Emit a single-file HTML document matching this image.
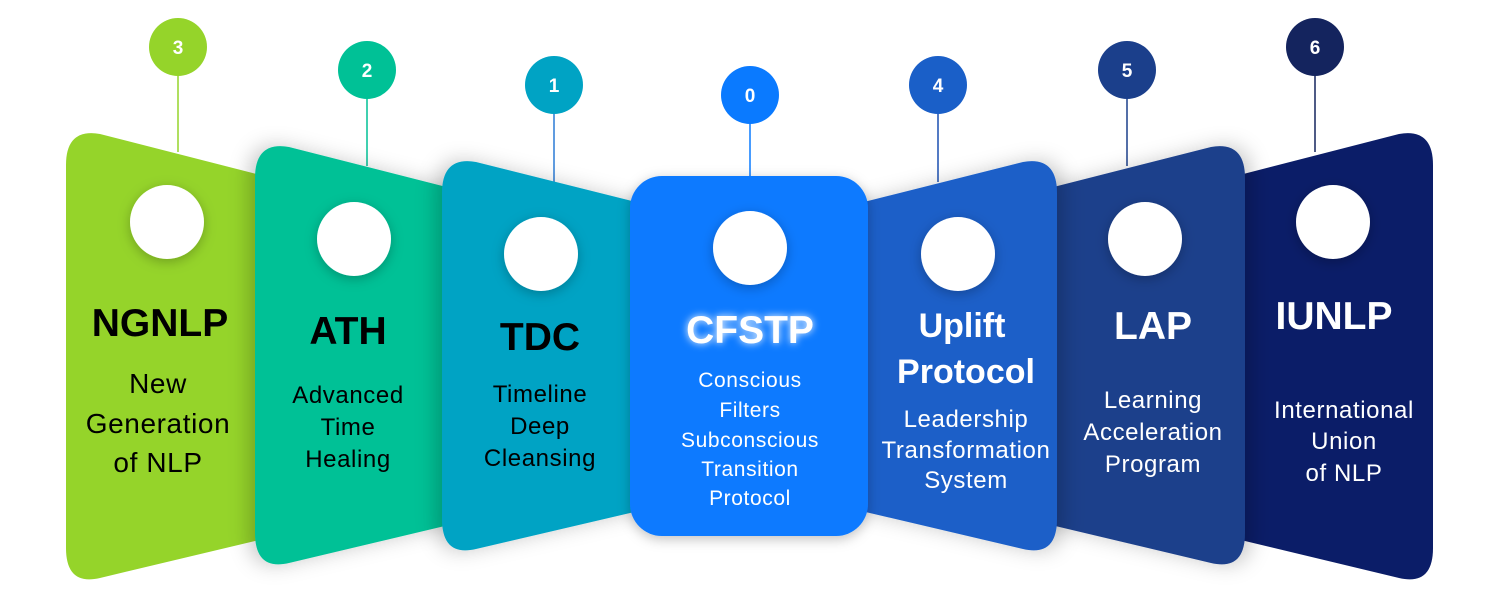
<!DOCTYPE html>
<html><head><meta charset="utf-8"><style>
html,body{margin:0;padding:0;background:#fff;}
svg{display:block;}
text{font-family:"Liberation Sans",sans-serif;text-anchor:middle;}
.s{letter-spacing:0.6px;}
</style></head><body>
<svg width="1500" height="609" viewBox="0 0 1500 609" xmlns="http://www.w3.org/2000/svg">
<defs>
<filter id="sh" x="-20%" y="-20%" width="140%" height="140%"><feDropShadow dx="-6" dy="0" stdDeviation="10" flood-color="#000" flood-opacity="0.22"/></filter>
<filter id="shr" x="-20%" y="-20%" width="140%" height="140%"><feDropShadow dx="6" dy="0" stdDeviation="10" flood-color="#000" flood-opacity="0.22"/></filter>
<filter id="cs" x="-50%" y="-50%" width="200%" height="200%"><feDropShadow dx="0" dy="3" stdDeviation="6" flood-color="#000" flood-opacity="0.25"/></filter>
<filter id="glow" x="-30%" y="-60%" width="160%" height="220%"><feGaussianBlur stdDeviation="4" result="b"/><feMerge><feMergeNode in="b"/><feMergeNode in="SourceGraphic"/></feMerge></filter>
</defs>
<g stroke-width="1.5">
<line x1="178" y1="60" x2="178" y2="152" stroke="#95d42a"/>
<line x1="367" y1="80" x2="367" y2="166" stroke="#00c196"/>
<line x1="554" y1="95" x2="554" y2="182" stroke="#2a7bd6"/>
<line x1="750" y1="105" x2="750" y2="178" stroke="#0a7aff"/>
<line x1="938" y1="95" x2="938" y2="182" stroke="#1a4fb0"/>
<line x1="1127" y1="80" x2="1127" y2="166" stroke="#1b3f8b"/>
<line x1="1315" y1="60" x2="1315" y2="152" stroke="#14245e"/>
</g>
<circle cx="178" cy="47" r="29" fill="#95d42a"/><text x="178" y="54" font-size="19" font-weight="bold" fill="#fff">3</text>
<circle cx="367" cy="70" r="29" fill="#00c196"/><text x="367" y="77" font-size="19" font-weight="bold" fill="#fff">2</text>
<circle cx="554" cy="85" r="29" fill="#00a3c4"/><text x="554" y="92" font-size="19" font-weight="bold" fill="#fff">1</text>
<circle cx="750" cy="95" r="29" fill="#0a7aff"/><text x="750" y="102" font-size="19" font-weight="bold" fill="#fff">0</text>
<circle cx="938" cy="85" r="29" fill="#1a5fc8"/><text x="938" y="92" font-size="19" font-weight="bold" fill="#fff">4</text>
<circle cx="1127" cy="70" r="29" fill="#1b3f8b"/><text x="1127" y="77" font-size="19" font-weight="bold" fill="#fff">5</text>
<circle cx="1315" cy="47" r="29" fill="#14245e"/><text x="1315" y="54" font-size="19" font-weight="bold" fill="#fff">6</text>

<path d="M66 165 Q66 128 100 134 L280 180 L280 535 L100 578 Q66 586 66 548 Z" fill="#95d42a"/>
<path d="M255 178 Q255 141 289 147 L470 193 L470 520 L289 563 Q255 571 255 533 Z" fill="#00c196" filter="url(#sh)"/>
<path d="M442 193 Q442 156 476 162 L660 208 L660 506 L476 549 Q442 557 442 519 Z" fill="#00a3c4" filter="url(#sh)"/>
<path d="M1433 165 Q1433 128 1399 134 L1220 180 L1220 535 L1399 578 Q1433 586 1433 548 Z" fill="#0b1d68"/>
<path d="M1245 178 Q1245 141 1211 147 L1030 193 L1030 520 L1211 563 Q1245 571 1245 533 Z" fill="#1b3f8b" filter="url(#shr)"/>
<path d="M1057 193 Q1057 156 1023 162 L840 208 L840 506 L1023 549 Q1057 557 1057 519 Z" fill="#1a5fc8" filter="url(#shr)"/>
<rect x="630" y="176" width="238" height="360" rx="32" fill="#0a7aff" filter="url(#cs)"/>

<g fill="#fff" filter="url(#cs)">
<circle cx="167" cy="222" r="37"/><circle cx="354" cy="239" r="37"/><circle cx="541" cy="254" r="37"/>
<circle cx="750" cy="248" r="37"/>
<circle cx="958" cy="254" r="37"/><circle cx="1145" cy="239" r="37"/><circle cx="1333" cy="222" r="37"/>
</g>

<g fill="#000">
<text x="160" y="336" font-size="39" font-weight="bold">NGNLP</text>
<text class="s" x="158" y="393" font-size="28">New</text>
<text class="s" x="158" y="433" font-size="28">Generation</text>
<text class="s" x="158" y="472" font-size="28">of NLP</text>
<text x="348" y="344" font-size="39" font-weight="bold">ATH</text>
<text class="s" x="348" y="403" font-size="24">Advanced</text>
<text class="s" x="348" y="435" font-size="24">Time</text>
<text class="s" x="348" y="467" font-size="24">Healing</text>
<text x="540" y="350" font-size="39" font-weight="bold">TDC</text>
<text class="s" x="540" y="402" font-size="24">Timeline</text>
<text class="s" x="540" y="434" font-size="24">Deep</text>
<text class="s" x="540" y="466" font-size="24">Cleansing</text>
</g>
<g fill="#fff">
<text x="750" y="343" font-size="39" font-weight="bold" filter="url(#glow)">CFSTP</text>
<text class="s" x="750" y="387" font-size="21">Conscious</text>
<text class="s" x="750" y="417" font-size="21">Filters</text>
<text class="s" x="750" y="447" font-size="21">Subconscious</text>
<text class="s" x="750" y="476" font-size="21">Transition</text>
<text class="s" x="750" y="505" font-size="21">Protocol</text>
<text x="962" y="337" font-size="34" font-weight="bold">Uplift</text>
<text x="966" y="383" font-size="34" font-weight="bold">Protocol</text>
<text class="s" x="966" y="427" font-size="24">Leadership</text>
<text class="s" x="966" y="458" font-size="24">Transformation</text>
<text class="s" x="966" y="488" font-size="24">System</text>
<text x="1153" y="339" font-size="39" font-weight="bold">LAP</text>
<text class="s" x="1153" y="408" font-size="24">Learning</text>
<text class="s" x="1153" y="440" font-size="24">Acceleration</text>
<text class="s" x="1153" y="472" font-size="24">Program</text>
<text x="1334" y="329" font-size="39" font-weight="bold">IUNLP</text>
<text class="s" x="1344" y="418" font-size="24">International</text>
<text class="s" x="1344" y="449" font-size="24">Union</text>
<text class="s" x="1344" y="481" font-size="24">of NLP</text>
</g>
</svg>
</body></html>
